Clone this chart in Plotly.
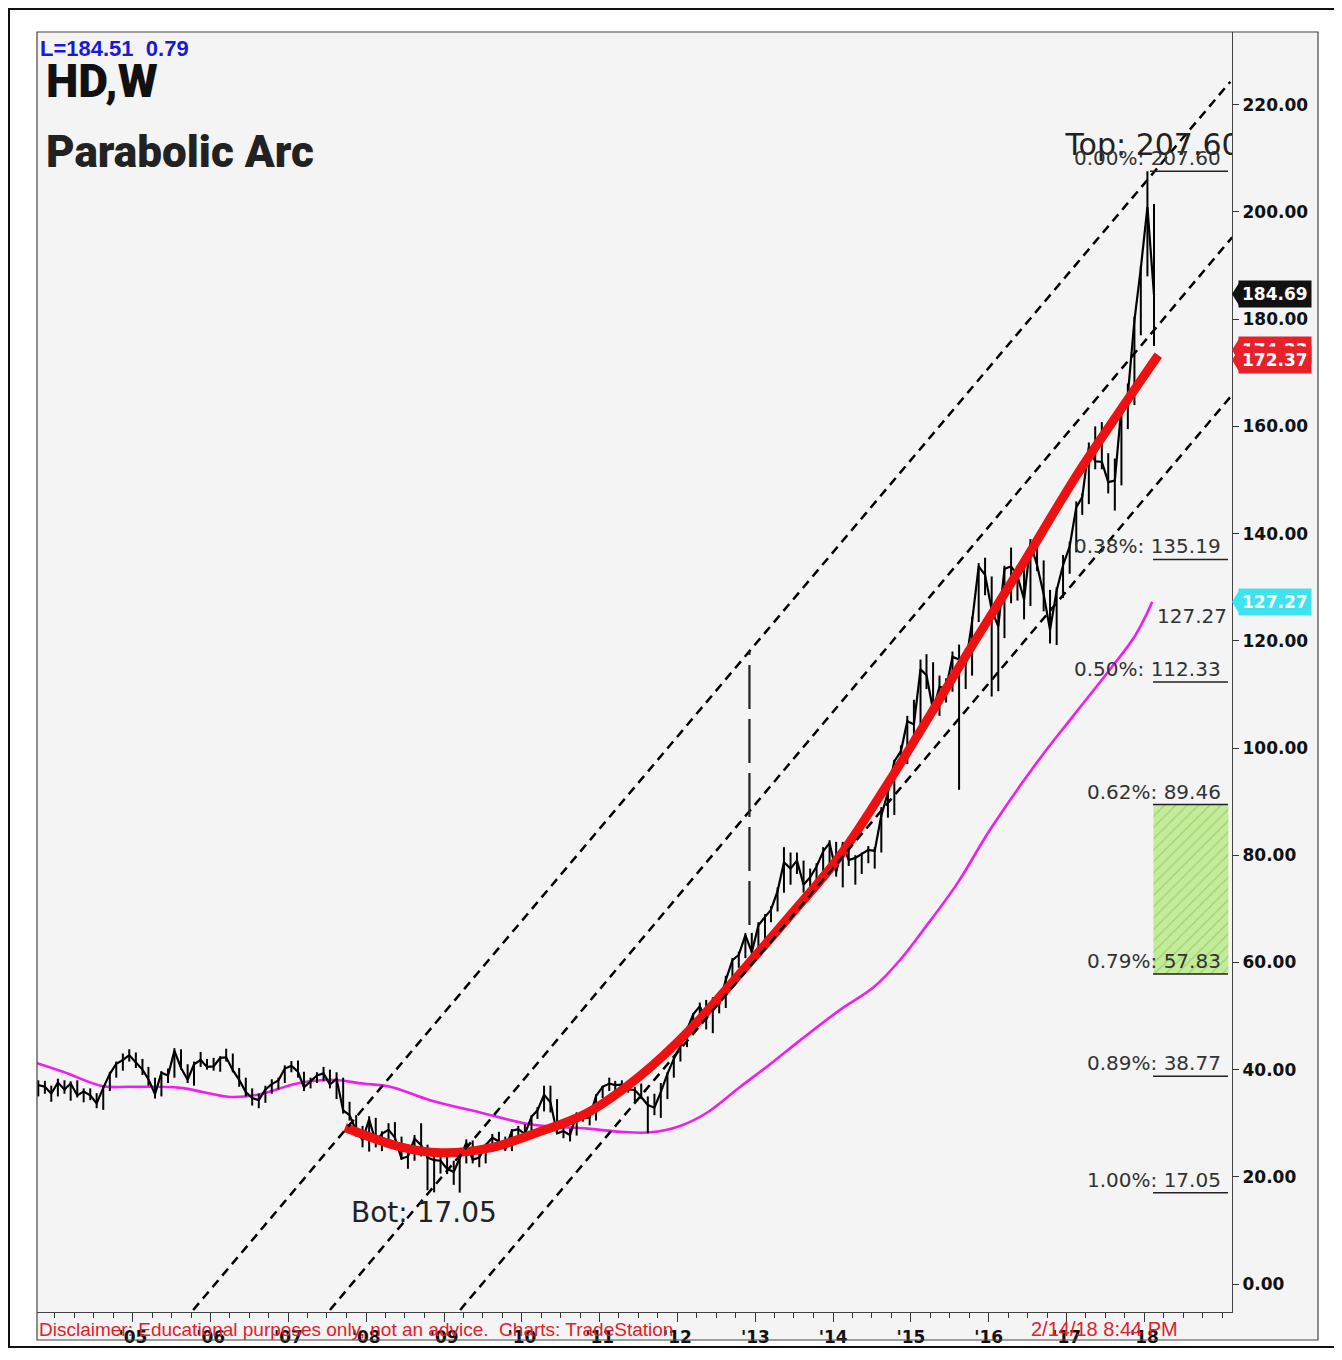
import numpy as np
import pandas as pd
import plotly.graph_objects as go

# monthly bars, Oct 2003 .. Feb 2018
close = [
    37.1, 36.8, 35.5,
    37.6, 36.3, 37.4, 35.2, 35.9, 35.2, 33.7, 36.6, 39.2, 41.1, 41.8, 42.7,
    41.3, 40.0, 38.2, 35.4, 39.4, 38.9, 43.5, 40.3, 38.1, 41.0, 41.8, 40.5,
    40.6, 42.2, 42.3, 39.9, 38.1, 35.8, 34.7, 34.3, 36.3, 37.3, 38.0, 40.2,
    40.7, 39.6, 36.7, 37.9, 38.9, 39.3, 37.2, 38.3, 32.4, 31.5, 28.6, 26.9,
    30.7, 26.5, 28.0, 28.8, 27.3, 23.4, 23.8, 27.1, 25.9, 23.6, 23.1, 23.0,
    21.5, 20.9, 23.6, 26.3, 23.2, 23.6, 25.9, 27.3, 26.6, 25.1, 28.6, 28.9,
    28.0, 31.2, 32.4, 35.3, 33.9, 28.1, 28.5, 27.8, 31.7, 30.9, 31.1, 35.1,
    36.8, 37.4, 37.1, 37.2, 36.3, 36.2, 34.9, 33.4, 32.9, 35.8, 39.2, 42.0,
    44.4, 47.6, 50.3, 51.8, 49.3, 53.0, 52.2, 56.7, 60.4, 61.4, 65.1, 61.9,
    66.9, 68.5, 69.8, 73.3, 78.7, 77.5, 79.0, 74.5, 75.9, 77.9, 80.7, 82.3,
    76.8, 82.0, 79.1, 79.5, 80.2, 81.0, 80.8, 87.4, 91.7, 97.5, 99.4, 105.0,
    104.4, 114.7, 113.6, 107.0, 111.4, 111.1, 117.0, 116.5, 115.5, 123.6, 133.9, 132.3,
    125.8, 122.7, 133.4, 133.9, 132.1, 127.7, 138.2, 134.1, 128.7, 122.0, 129.4, 134.1,
    137.6, 144.9, 146.8, 156.1, 153.5, 153.4, 149.6, 149.9, 163.6, 165.8, 179.8, 189.5,
    200.9, 184.5,
]
high = [
    38.0, 37.9, 37.0,
    38.3, 38.0, 37.8, 38.0, 36.5, 36.5, 35.6, 37.0, 39.6, 41.5, 43.0, 43.8,
    43.2, 42.0, 40.5, 38.5, 39.7, 40.2, 44.0, 43.8, 41.0, 41.5, 43.3, 42.0,
    42.2, 42.5, 43.9, 43.0, 40.3, 38.5, 36.5, 35.5, 37.0, 38.2, 38.5, 40.8,
    41.6, 41.7, 39.6, 38.5, 39.5, 40.5, 40.0, 39.5, 38.5, 34.0, 31.5, 29.5,
    31.3, 31.0, 28.5, 30.0, 30.2, 27.5, 25.0, 27.8, 30.0, 26.0, 24.5, 24.8,
    24.3, 23.0, 24.5, 27.0, 26.8, 24.5, 26.2, 28.0, 28.4, 27.5, 28.9, 29.5,
    29.8, 31.5, 33.0, 37.0, 37.0, 34.5, 29.5, 29.0, 32.0, 32.3, 31.3, 35.4,
    37.0, 38.5, 37.9, 38.0, 37.8, 36.8, 37.4, 35.0, 35.5, 37.5, 39.5, 42.5,
    45.0, 48.0, 50.5, 52.5, 53.0, 53.5, 53.5, 57.5, 60.8, 62.0, 65.5, 65.5,
    67.5, 69.0, 70.5, 74.0, 81.5, 80.5, 80.5, 79.0, 77.5, 78.5, 81.5, 82.8,
    82.5, 82.5, 82.0, 80.0, 80.5, 81.7, 81.5, 89.0, 93.5, 97.8, 100.5, 106.0,
    109.0, 116.5, 117.5, 116.0, 113.5, 113.0, 118.0, 119.3, 118.5, 124.5, 134.5, 135.5,
    132.0, 126.5, 134.0, 137.4, 134.0, 134.5, 139.0, 138.5, 135.0, 129.5, 130.0, 136.0,
    138.5, 146.0, 147.5, 157.0, 160.0, 160.8, 155.0, 154.0, 164.0, 168.0, 180.5, 190.0,
    207.6, 201.5,
]
low = [
    35.0, 35.5, 34.0,
    35.0, 35.5, 34.2, 34.8, 33.9, 34.3, 32.8, 32.5, 36.0, 38.5, 39.8, 41.5,
    40.3, 39.0, 37.0, 34.6, 35.0, 37.5, 38.5, 40.0, 37.5, 37.0, 40.5, 40.0,
    39.8, 39.6, 41.5, 39.5, 36.8, 35.0, 33.3, 32.8, 33.8, 35.5, 36.3, 37.5,
    39.5, 38.5, 36.0, 36.5, 37.5, 37.8, 36.5, 34.5, 31.8, 30.5, 27.5, 25.5,
    24.7, 25.5, 24.8, 27.0, 26.8, 23.2, 21.5, 23.0, 23.8, 17.5, 17.1, 20.6,
    20.5, 18.5, 17.05, 22.5, 22.5, 21.8, 22.5, 25.5, 25.8, 24.8, 24.8, 27.0,
    27.5, 27.7, 30.8, 32.2, 32.0, 28.0, 27.2, 26.6, 27.7, 30.3, 29.6, 30.5,
    34.7, 36.0, 35.5, 36.5, 35.7, 33.8, 34.5, 28.1, 31.5, 31.0, 34.5, 38.5,
    41.5, 44.2, 47.0, 49.5, 47.5, 46.8, 50.5, 51.5, 56.0, 59.0, 60.8, 60.0,
    62.0, 63.5, 67.5, 69.5, 73.0, 74.5, 76.5, 73.0, 73.5, 74.5, 77.0, 78.5,
    76.0, 74.0, 78.0, 74.5, 76.5, 78.5, 77.5, 80.5, 87.0, 87.5, 96.0, 97.0,
    101.5, 104.0, 111.0, 106.5, 106.0, 108.5, 110.5, 92.2, 111.0, 113.5, 123.5, 128.5,
    109.6, 110.6, 120.5, 127.0, 127.5, 124.0, 126.5, 133.0, 125.5, 119.5, 119.2, 128.0,
    132.5, 136.5, 143.5, 145.5, 152.0, 152.0, 147.5, 144.3, 149.0, 159.5, 164.0, 177.0,
    188.0, 175.0,
]
months = pd.date_range("2003-10-01", periods=len(close), freq="MS") + pd.Timedelta(days=14)

# magenta moving average
ma_dates = ["2003-10-09", "2004-02-08", "2004-08-14", "2004-12-19", "2005-08-11",
            "2006-04-03", "2006-08-08", "2007-02-11", "2007-07-15", "2007-12-17",
            "2008-04-23", "2008-10-27", "2009-06-19", "2010-02-23", "2010-11-03",
            "2011-04-07", "2011-08-25", "2012-01-14", "2012-05-20", "2012-10-22",
            "2013-03-11", "2013-07-31", "2014-02-04", "2014-07-08", "2014-11-12",
            "2015-02-27", "2015-08-06", "2016-01-08", "2016-08-31", "2017-02-01",
            "2017-07-10", "2017-11-19", "2018-02-07"]
ma_values = [41.2, 39.6, 36.9, 36.8, 36.6, 34.9, 35.3, 37.4, 38.1, 37.4,
             36.8, 34.3, 32.0, 29.7, 29.0, 28.4, 28.3, 29.5, 32.0, 36.8,
             41.0, 45.5, 51.2, 55.3, 60.5, 66.0, 74.7, 84.8, 98.2, 106.0,
             114.0, 121.0, 127.27]

# red parabolic arc
arc_dates = ["2007-09-24", "2008-06-09", "2008-12-13", "2009-08-05", "2010-02-23",
             "2010-11-03", "2011-07-09", "2012-03-01", "2012-10-22", "2013-06-14",
             "2014-02-04", "2014-10-10", "2015-05-19", "2015-10-21", "2016-06-12",
             "2017-02-11", "2017-09-10", "2018-03-07"]
arc_values = [29.2, 25.6, 24.5, 25.4, 28.0, 31.9, 38.8, 47.5, 58.0, 68.8,
              80.0, 95.0, 109.3, 119.5, 134.5, 150.5, 163.0, 173.3]

# dashed channel lines (start, end)
channel_dates = [["2005-10-11", "2019-02-08"], ["2007-07-15", "2019-02-17"], ["2009-03-17", "2019-02-17"]]
channel_values = [[-4.85, 224.3], [-4.85, 195.3], [-4.85, 165.9]]
vline_date = "2012-12-04"
vline_values = [67.0, 118.0]

# fibonacci retracement levels
fib_labels = ["0.00%", "0.38%", "0.50%", "0.62%", "0.79%", "0.89%", "1.00%"]
fib_values = [207.60, 135.19, 112.33, 89.46, 57.83, 38.77, 17.05]

# price badges on the axis
badge_values = [184.69, 174.23, 172.37, 127.27]
badge_colors = ["#111111", "#e8202a", "#e8202a", "#3fe3ef"]

year_ticks = [f"{y}-01-01" for y in range(2005, 2019)]
year_text = [f"'{str(y)[2:]}" for y in range(2005, 2019)]

# page has an 8px body margin; plot area sits at page x 37..1232, y 32..1312
PAGE = 8
L, T, W, H = 29, 24, 1195, 1280
FIG_W, FIG_H = 1342, 1360


def px(x):
    return (x - PAGE - L) / W


def py(y):
    return (T + H - (y - PAGE)) / H


fig = go.Figure()

fig.add_trace(go.Scatter(x=ma_dates, y=ma_values, mode="lines", line_shape="spline",
                         line=dict(color="#f01cf0", width=2.6), hoverinfo="skip"))

c = np.array(close)
fig.add_trace(go.Scatter(
    x=months, y=close, mode="lines", line=dict(color="black", width=2.2),
    error_y=dict(type="data", symmetric=False, array=np.array(high) - c,
                 arrayminus=c - np.array(low), width=0, thickness=2, color="black"),
))

fig.add_trace(go.Scatter(x=arc_dates, y=arc_values, mode="lines", line_shape="spline",
                         line=dict(color="#ee1111", width=9)))

for d, v in zip(channel_dates, channel_values):
    fig.add_trace(go.Scatter(x=d, y=v, mode="lines",
                             line=dict(color="black", width=2.5, dash="9px,6px")))

fig.add_trace(go.Scatter(x=[vline_date, vline_date], y=vline_values, mode="lines",
                         line=dict(color="#222222", width=2.2, dash="44px,10px")))

# hatched retracement box between 0.62 and 0.79
fig.add_trace(go.Bar(
    x=["2018-08-07"], y=[fib_values[3] - fib_values[4]], base=[fib_values[4]],
    width=3.04e10,
    marker=dict(color="#c3ec98", line=dict(width=0),
                pattern=dict(shape="/", fgcolor="#7fae5a", bgcolor="#c3ec98", size=8, solidity=0.15)),
))

fig.add_trace(go.Scatter(x=["2016-12-26"], y=[212.1], mode="text", text=["Top: 207.60"],
                         textposition="middle right",
                         textfont=dict(family="DejaVu Sans", size=30, color="#222222")))

shapes = []
annotations = []

for i, (lab, val) in enumerate(zip(fib_labels, fib_values)):
    x0 = px(1150) if i == 0 else px(1153)
    shapes.append(dict(type="line", xref="paper", yref="y", x0=x0, x1=px(1228), y0=val, y1=val,
                       line=dict(color="#222222", width=1.5)))
    annotations.append(dict(xref="paper", yref="y", x=px(1223), y=val, xanchor="right", yanchor="bottom",
                            text=f"{lab}: {val:.2f}", showarrow=False, yshift=-1,
                            font=dict(family="DejaVu Sans", size=20, color="#333333")))

annotations.append(dict(xref="paper", yref="y", x=px(1155), y=127.27, xanchor="left", yanchor="top",
                        text="127.27", showarrow=False,
                        font=dict(family="DejaVu Sans", size=20, color="#333333")))
annotations.append(dict(xref="x", yref="y", x="2008-09-29", y=13.4, xanchor="center", yanchor="middle",
                        text="Bot: 17.05", showarrow=False,
                        font=dict(family="DejaVu Sans", size=28, color="#222222")))

for val, col in zip(badge_values, badge_colors):
    annotations.append(dict(xref="paper", yref="y", x=px(1238), y=val, xanchor="left", yanchor="middle",
                            text=f"<b>{val:.2f}</b>", showarrow=False, bgcolor=col, borderpad=3,
                            font=dict(family="DejaVu Sans", size=17, color="white")))
    shapes.append(dict(type="path", xref="paper", yref="y", fillcolor=col, line=dict(width=0),
                       path=f"M {px(1232)},{val} L {px(1240)},{val + 2.4} L {px(1240)},{val - 2.4} Z"))

annotations += [
    dict(xref="paper", yref="paper", x=px(38), y=py(34), xanchor="left", yanchor="top",
         text="<b>L=184.51\u00a0\u00a00.79</b>", showarrow=False,
         font=dict(family="Liberation Sans, Arial", size=22, color="#1a1ad6")),
    dict(xref="paper", yref="paper", x=px(44), y=py(81), xanchor="left", yanchor="middle",
         text="HD,W", showarrow=False,
         font=dict(family="Roboto", size=46, color="#111111", weight=900)),
    dict(xref="paper", yref="paper", x=px(44), y=py(152), xanchor="left", yanchor="middle",
         text="Parabolic Arc", showarrow=False,
         font=dict(family="Roboto", size=44, color="#222222", weight=900)),
    dict(xref="paper", yref="paper", x=px(37), y=py(1329), xanchor="left", yanchor="middle",
         text="Disclaimer: Educational purposes only, not an advice.\u00a0\u00a0Charts: TradeStation",
         showarrow=False, font=dict(family="Liberation Sans, Arial", size=19, color="#e0202a")),
    dict(xref="paper", yref="paper", x=px(1029), y=py(1329), xanchor="left", yanchor="middle",
         text="2/14/18 8:44 PM", showarrow=False,
         font=dict(family="Liberation Sans, Arial", size=20, color="#e0202a")),
]

# frame: outer border, label strips and inner border
shapes += [
    dict(type="rect", xref="paper", yref="paper", x0=px(1232), x1=px(1318), y0=py(1340), y1=py(32),
         fillcolor="#f4f4f4", line=dict(width=0), layer="below"),
    dict(type="rect", xref="paper", yref="paper", x0=px(37), x1=px(1318), y0=py(1340), y1=py(1312),
         fillcolor="#f4f4f4", line=dict(width=0), layer="below"),
    dict(type="rect", xref="paper", yref="paper", x0=px(37), x1=px(1318), y0=py(1340), y1=py(32),
         line=dict(color="#444444", width=1.2)),
    dict(type="rect", xref="paper", yref="paper", x0=px(9), x1=px(1336), y0=py(1347), y1=py(9),
         line=dict(color="#111111", width=2)),
]

fig.update_layout(
    width=FIG_W, height=FIG_H,
    margin=dict(l=L, r=FIG_W - L - W, t=T, b=FIG_H - T - H),
    paper_bgcolor="white", plot_bgcolor="#f4f4f4",
    showlegend=False, shapes=shapes, annotations=annotations,
    font=dict(family="DejaVu Sans"),
)
fig.update_xaxes(
    type="date", range=["2003-10-09", "2019-02-16"],
    tickvals=year_ticks, ticktext=year_text,
    ticks="outside", ticklen=9, tickcolor="#333333",
    minor=dict(ticks="outside", ticklen=5, dtick="M3", tick0="2005-01-01", tickcolor="#333333"),
    showgrid=False, showline=True, linecolor="#444444", linewidth=1.2,
    tickfont=dict(family="DejaVu Sans", size=17, color="#111111", weight="bold"),
)
fig.update_yaxes(
    side="right", range=[-5.22, 233.58], tickvals=list(range(0, 221, 20)), tickformat=".2f",
    ticks="outside", ticklen=6, tickcolor="#333333",
    showgrid=False, zeroline=False, showline=True, linecolor="#444444", linewidth=1.2,
    tickfont=dict(family="DejaVu Sans", size=17, color="#111111", weight="bold"),
)

fig.write_html("out.html")
